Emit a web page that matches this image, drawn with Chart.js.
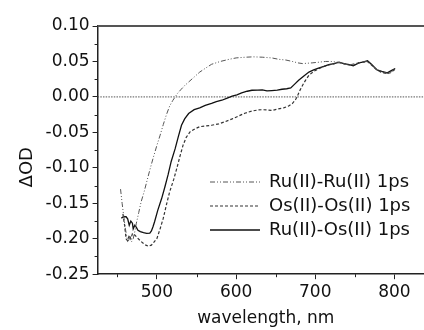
<!DOCTYPE html>
<html>
<head>
<meta charset="utf-8">
<script src="https://cdn.jsdelivr.net/npm/chart.js@4/dist/chart.umd.min.js"></script>
<style>
html,body{margin:0;padding:0;background:#fff;overflow:hidden;width:424px;height:330px;}
#wrap{position:absolute;left:0;top:0;width:440px;height:330px;}
</style>
</head>
<body>
<div id="wrap"><canvas id="c" width="440" height="330"></canvas></div>
<script>
// ---- data ----
const seriesNames = ["Ru(II)-Ru(II) 1ps", "Os(II)-Os(II) 1ps", "Ru(II)-Os(II) 1ps"];

const ruRuWl = [454,456,458,460,462,464,466,468,470,472,474,477,480,484,487,491,495,500,504,508,512,516,520,523,526,530,535,540,547,554,562,569,580,591,600,612,622,633,645,654,663,671,678,684,690,696,705,713,720,728,735,743,750,755,760,766,770,776,782,788,793,797,801];
const ruRuVal = [-0.130,-0.150,-0.168,-0.185,-0.198,-0.203,-0.197,-0.204,-0.200,-0.190,-0.178,-0.163,-0.148,-0.133,-0.120,-0.103,-0.087,-0.068,-0.054,-0.039,-0.025,-0.013,-0.005,0.000,0.005,0.010,0.016,0.021,0.028,0.035,0.041,0.046,0.050,0.053,0.055,0.056,0.0565,0.056,0.055,0.053,0.052,0.050,0.048,0.047,0.0475,0.048,0.049,0.050,0.050,0.049,0.047,0.045,0.047,0.048,0.049,0.050,0.046,0.040,0.036,0.034,0.033,0.036,0.040];

const osOsWl = [457,459,461,463,465,467,469,470,473,476,479,483,486,489,493,496,500,504,508,512,516,521,525,529,533,537,542,548,554,561,569,578,586,595,603,611,620,627,633,640,646,653,660,666,671,675,677,680,684,688,692,698,705,711,717,724,730,736,743,749,755,760,766,771,777,783,790,795,801];
const osOsVal = [-0.165,-0.180,-0.200,-0.203,-0.195,-0.200,-0.193,-0.1925,-0.196,-0.1995,-0.203,-0.2066,-0.209,-0.2105,-0.209,-0.205,-0.1995,-0.186,-0.171,-0.152,-0.134,-0.117,-0.101,-0.084,-0.068,-0.057,-0.049,-0.045,-0.042,-0.041,-0.040,-0.038,-0.035,-0.031,-0.027,-0.023,-0.020,-0.0185,-0.018,-0.0185,-0.019,-0.017,-0.0155,-0.013,-0.0094,-0.004,0.000,0.008,0.0165,0.024,0.0305,0.036,0.040,0.043,0.045,0.047,0.0485,0.047,0.045,0.045,0.048,0.049,0.050,0.045,0.039,0.035,0.033,0.034,0.039];

const ruOsWl = [455,458,461,463,465,467,469,470,472,474,476,479,483,487,491,493,495,497,501,506,510,514,518,523,527,531,535,540,547,554,561,569,575,582,588,595,601,607,614,620,627,633,639,645,652,658,664,669,674,679,686,692,698,705,711,717,724,730,736,743,748,755,760,766,771,778,784,791,796,801];
const ruOsVal = [-0.171,-0.169,-0.169,-0.172,-0.181,-0.175,-0.178,-0.186,-0.181,-0.184,-0.188,-0.190,-0.1915,-0.1925,-0.192,-0.189,-0.183,-0.176,-0.160,-0.143,-0.127,-0.110,-0.091,-0.073,-0.056,-0.040,-0.031,-0.0235,-0.018,-0.0155,-0.012,-0.009,-0.0065,-0.0047,-0.002,0.001,0.003,0.0056,0.008,0.0094,0.0097,0.0099,0.0085,0.0089,0.0095,0.0108,0.0115,0.0127,0.018,0.0235,0.030,0.035,0.038,0.041,0.043,0.0455,0.047,0.049,0.047,0.0455,0.044,0.048,0.049,0.051,0.046,0.038,0.036,0.034,0.037,0.040];

const xTickValues = [500, 600, 700, 800];
const xMinorValues = [450, 550, 650, 750, 850];
const yTickValues = [-0.25, -0.20, -0.15, -0.10, -0.05, 0.00, 0.05, 0.10];
const yMinorValues = [-0.225, -0.175, -0.125, -0.075, -0.025, 0.025, 0.075];
const xLabel = "wavelength, nm";
const yLabel = "ΔOD";
const xMin = 425, xMax = 850, yMin = -0.25, yMax = 0.10;

// ---- styles ----
const FONT = "'DejaVu Sans', sans-serif";
const lineStyles = [
  {color: '#555', width: 1, dash: [5, 2, 1, 2, 1, 2]},
  {color: '#333', width: 1.2, dash: [3, 2]},
  {color: '#111', width: 1.3, dash: []}
];

function pts(wl, v) { return wl.map((w, i) => ({x: w, y: v[i]})); }

// small legend sample images (a short line in each series' style)
function sample(st) {
  const c = document.createElement('canvas');
  c.width = 50; c.height = 6;
  const g = c.getContext('2d');
  g.strokeStyle = st.color; g.lineWidth = st.width; g.setLineDash(st.dash);
  g.beginPath(); g.moveTo(0, 3); g.lineTo(50, 3); g.stroke();
  return c;
}
const samples = lineStyles.map(sample);

const decor = {
  id: 'decor',
  beforeDatasetsDraw(chart) {
    const {ctx, chartArea: a, scales: {x, y}} = chart;
    ctx.save();
    const y0 = y.getPixelForValue(0);
    ctx.strokeStyle = '#555';
    ctx.lineWidth = 1;
    ctx.setLineDash([1.5, 1.2]);
    ctx.beginPath(); ctx.moveTo(a.left, y0); ctx.lineTo(a.right, y0); ctx.stroke();
    ctx.setLineDash([]);
    ctx.strokeStyle = '#555';
    ctx.lineWidth = 2;
    ctx.beginPath(); ctx.moveTo(a.left, a.top); ctx.lineTo(a.right, a.top); ctx.stroke();
    ctx.strokeStyle = '#222';
    ctx.lineWidth = 1;
    xMinorValues.forEach(v => {
      const px = Math.round(x.getPixelForValue(v)) + 0.5;
      ctx.beginPath(); ctx.moveTo(px, a.bottom); ctx.lineTo(px, a.bottom + 3); ctx.stroke();
    });
    yMinorValues.forEach(v => {
      const py = Math.round(y.getPixelForValue(v)) + 0.5;
      ctx.beginPath(); ctx.moveTo(a.left, py); ctx.lineTo(a.left - 3, py); ctx.stroke();
    });
    ctx.restore();
  },
  afterUpdate(chart) {
    const lg = chart.legend;
    if (!lg) return;
    lg.left = 204; lg.top = 167;
    lg.right = 440; lg.bottom = 263;
    lg.width = lg.right - lg.left; lg.height = lg.bottom - lg.top;
  }
};

new Chart(document.getElementById('c'), {
  type: 'line',
  data: {
    datasets: [
      {label: seriesNames[0], data: pts(ruRuWl, ruRuVal), borderColor: lineStyles[0].color, borderWidth: lineStyles[0].width, borderDash: lineStyles[0].dash, pointRadius: 0, tension: 0},
      {label: seriesNames[1], data: pts(osOsWl, osOsVal), borderColor: lineStyles[1].color, borderWidth: lineStyles[1].width, borderDash: lineStyles[1].dash, pointRadius: 0, tension: 0},
      {label: seriesNames[2], data: pts(ruOsWl, ruOsVal), borderColor: lineStyles[2].color, borderWidth: lineStyles[2].width, borderDash: lineStyles[2].dash, pointRadius: 0, tension: 0}
    ]
  },
  options: {
    responsive: false,
    animation: false,
    events: [],
    layout: {padding: {left: 4, right: 6, top: 26, bottom: 0}},
    plugins: {
      tooltip: {enabled: false},
      legend: {
        position: 'chartArea',
        align: 'start',
        labels: {
          usePointStyle: true,
          pointStyleWidth: 50,
          boxHeight: 18,
          padding: 6,
          color: '#111',
          font: {family: FONT, size: 18},
          generateLabels(chart) {
            const items = Chart.defaults.plugins.legend.labels.generateLabels(chart);
            items.forEach((it, i) => { it.pointStyle = samples[i]; });
            return items;
          }
        }
      }
    },
    scales: {
      x: {
        type: 'linear',
        min: xMin, max: xMax,
        afterBuildTicks: ax => { ax.ticks = xTickValues.map(v => ({value: v})); },
        grid: {drawOnChartArea: false, drawTicks: true, tickLength: 5, tickColor: '#222', tickWidth: 1},
        border: {display: true, color: '#222', width: 1.5},
        ticks: {color: '#111', font: {family: FONT, size: 17}, padding: 3, maxRotation: 0, autoSkip: false},
        title: {display: true, text: xLabel, color: '#111', font: {family: FONT, size: 17}, padding: {top: 3, bottom: 1}}
      },
      y: {
        type: 'linear',
        min: yMin, max: yMax,
        afterBuildTicks: ax => { ax.ticks = yTickValues.map(v => ({value: v})); },
        grid: {drawOnChartArea: false, drawTicks: true, tickLength: 5, tickColor: '#222', tickWidth: 1},
        border: {display: true, color: '#222', width: 1.5},
        ticks: {color: '#111', font: {family: FONT, size: 17}, padding: 3, autoSkip: false, callback: v => v.toFixed(2)},
        title: {display: true, text: yLabel + "      ", color: '#111', font: {family: FONT, size: 18}, padding: {top: 13, bottom: 4}}
      }
    }
  },
  plugins: [decor]
});
</script>
</body>
</html>
